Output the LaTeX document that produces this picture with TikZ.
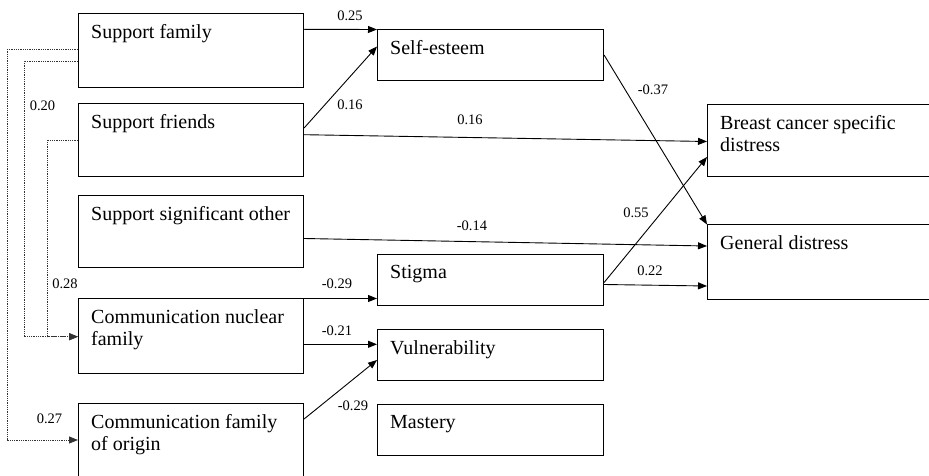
\documentclass[tikz,border=0pt]{standalone}
\usepackage{fontspec}
\setmainfont{Liberation Serif}
\usetikzlibrary{arrows.meta,calc}
\begin{document}
\begin{tikzpicture}[x=1pt,y=-1pt,
  box/.style={draw,line width=1.1pt,rectangle,inner sep=0,anchor=north west},
  txt/.style={anchor=north west,inner sep=0,align=left,font=\fontsize{20}{22}\selectfont},
  coef/.style={anchor=base,inner sep=0,font=\fontsize{14.5}{16}\selectfont},
  path/.style={line width=0.9pt,-{Triangle[length=9pt,width=7pt]}},
  corr/.style={line width=0.8pt,densely dotted,black!80,-{Triangle[length=9pt,width=7pt]}}]
\clip (0,0) rectangle (929,476);
% boxes
\node[box,minimum width=225pt,minimum height=74pt] (sf) at (78,13) {};
\node[box,minimum width=225pt,minimum height=73pt] (sfr) at (78,103) {};
\node[box,minimum width=225pt,minimum height=72pt] (sso) at (78,195) {};
\node[box,minimum width=225pt,minimum height=75pt] (cnf) at (78,298) {};
\node[box,minimum width=225pt,minimum height=80pt] (cfo) at (78,403) {};
\node[box,minimum width=226pt,minimum height=51pt] (se) at (377,29) {};
\node[box,minimum width=226pt,minimum height=51pt] (st) at (377,254) {};
\node[box,minimum width=226pt,minimum height=51pt] (vu) at (377,329) {};
\node[box,minimum width=226pt,minimum height=51pt] (ma) at (377,404) {};
\node[box,minimum width=240pt,minimum height=72pt] (bc) at (707,104) {};
\node[box,minimum width=240pt,minimum height=75pt] (gd) at (707,224) {};
% texts
\node[txt] (tsf) at (91,24) {Support family};
\node[txt] (tsfr) at (91,114) {Support friends};
\node[txt] (tsso) at (91,206) {Support significant other};
\node[txt] (tcnf) at (91,309) {Communication nuclear\\family};
\node[txt] (tcfo) at (91,414) {Communication family\\of origin};
\node[txt] (tse) at (390,40) {Self-esteem};
\node[txt] (tst) at (390,265) {Stigma};
\node[txt] (tvu) at (390,340) {Vulnerability};
\node[txt] (tma) at (390,415) {Mastery};
\node[txt] (tbc) at (720,115) {Breast cancer specific\\distress};
\node[txt] (tgd) at (720,235) {General distress};
% paths
\draw[path] ([yshift=-16.3pt]sf.north east) -- ([yshift=-0.5pt]se.north west);
\draw[path] ([yshift=-25pt]sfr.north east) -- ([yshift=-17.5pt]se.north west);
\draw[path] ([yshift=-31.7pt]sfr.north east) -- ([yshift=-37.5pt]bc.north west);
\draw[path] ([yshift=-43.5pt]sso.north east) -- ([yshift=-22pt]gd.north west);
\draw[path] ([yshift=-26pt]se.north east) -- ([yshift=-0.5pt]gd.north west);
\draw[path] ([yshift=-28.5pt]st.north east) -- ([yshift=-53pt]bc.north west);
\draw[path] ([yshift=-30.5pt]st.north east) -- ([yshift=-62pt]gd.north west);
\draw[path] ([yshift=-0.5pt]cnf.north east) -- ([yshift=-44.5pt]st.north west);
\draw[path] ([yshift=-46.3pt]cnf.north east) -- ([yshift=-15.3pt]vu.north west);
\draw[path] ([yshift=-16pt]cfo.north east) -- ([yshift=-31pt]vu.north west);
% correlations
\draw[corr] ([yshift=-36.3pt]sf.north west) -- ++(-70.7,0) |- ([yshift=-37pt]cfo.north west);
\draw[corr] ([yshift=-48pt]sf.north west) -- ++(-54,0) |- ([yshift=-38.7pt]cnf.north west);
\draw[corr] ([yshift=-37pt]sfr.north west) -- ++(-30.3,0) |- ([yshift=-38.7pt]cnf.north west);
% coefficients
\node[coef] (c1) at (350,20.5) {0.25};
\node[coef] (c2) at (350,110) {0.16};
\node[coef] (c3) at (470,125) {0.16};
\node[coef] (c4) at (472,230) {-0.14};
\node[coef] (c5) at (653,95) {-0.37};
\node[coef] (c6) at (636,217) {0.55};
\node[coef] (c7) at (650,275) {0.22};
\node[coef] (c8) at (337,288) {-0.29};
\node[coef] (c9) at (337,335) {-0.21};
\node[coef] (c10) at (353,410) {-0.29};
\node[coef] (c11) at (42.5,110.5) {0.20};
\node[coef] (c12) at (65,288) {0.28};
\node[coef] (c13) at (49.5,423) {0.27};
\end{tikzpicture}
\end{document}
